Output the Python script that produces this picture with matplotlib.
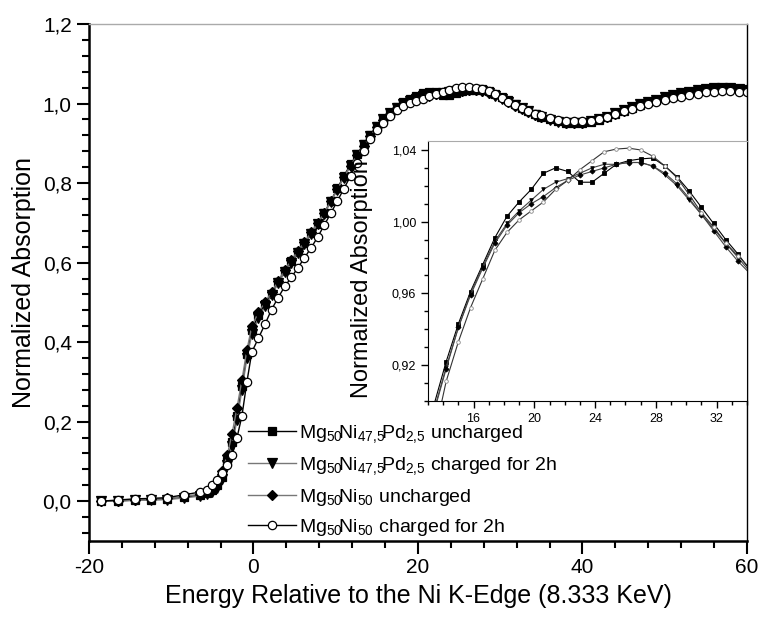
import matplotlib
matplotlib.use("Agg")
import matplotlib.pyplot as plt
from matplotlib.ticker import MultipleLocator, FuncFormatter

plt.rcParams['font.family'] = ['Liberation Sans', 'DejaVu Sans']
plt.rcParams['mathtext.fontset'] = 'custom'
plt.rcParams['mathtext.rm'] = 'Liberation Sans'
plt.rcParams['mathtext.default'] = 'regular'

# energy relative to the Ni K-edge (eV), shared by all four scans
energy = [-18.6, -16.5, -14.4, -12.5, -10.5, -8.5, -6.5,
          -5.6, -5.0, -4.4, -3.8, -3.2, -2.6, -2.0, -1.4, -0.8, -0.2,
          0.6, 1.4, 2.2, 3.0, 3.8, 4.6, 5.4, 6.2, 7.0, 7.8, 8.6, 9.4, 10.2,
          11.0, 11.8, 12.6, 13.4,
          14.2, 15.0, 15.8, 16.6, 17.4, 18.2, 19.0, 19.8, 20.6, 21.4, 22.2,
          23.0, 23.8, 24.6, 25.4, 26.2, 27.0, 27.8, 28.6, 29.4, 30.2, 31.0,
          31.8, 32.6, 33.4, 34.2,
          35.0, 36.0, 37.0, 38.0, 39.0, 40.0, 41.0, 42.0, 43.0, 44.0, 45.0,
          46.0, 47.0, 48.0, 49.0, 50.0, 51.0, 52.0, 53.0, 54.0, 55.0, 56.0,
          57.0, 58.0, 59.0, 60.0]

pd_uncharged = [0.000, 0.001, 0.003, 0.004, 0.005, 0.010, 0.015,
                0.020, 0.027, 0.040, 0.062, 0.100, 0.150, 0.215, 0.290, 0.370, 0.430,
                0.468, 0.495, 0.522, 0.552, 0.580, 0.603, 0.627, 0.650, 0.674, 0.698,
                0.725, 0.755, 0.787, 0.818, 0.847, 0.873, 0.898,
                0.922, 0.943, 0.961, 0.976, 0.991, 1.003, 1.011, 1.018, 1.027, 1.030,
                1.028, 1.022, 1.022, 1.027, 1.032, 1.034, 1.035, 1.0355, 1.031, 1.025,
                1.017, 1.008, 0.999, 0.990, 0.982, 0.973,
                0.967, 0.960, 0.955, 0.951, 0.950, 0.951, 0.954, 0.959, 0.966, 0.974,
                0.982, 0.990, 0.997, 1.003, 1.009, 1.015, 1.020, 1.025, 1.030, 1.034,
                1.037, 1.039, 1.040, 1.039, 1.037, 1.034]

pd_charged = [0.000, 0.000, 0.002, 0.003, 0.004, 0.008, 0.013,
              0.018, 0.024, 0.034, 0.055, 0.090, 0.140, 0.205, 0.280, 0.360, 0.420,
              0.460, 0.490, 0.518, 0.548, 0.576, 0.600, 0.624, 0.647, 0.671, 0.696,
              0.723, 0.752, 0.783, 0.814, 0.843, 0.870, 0.895,
              0.919, 0.941, 0.960, 0.975, 0.989, 0.999, 1.006, 1.012, 1.018, 1.022,
              1.024, 1.027, 1.030, 1.032, 1.032, 1.033, 1.033, 1.031, 1.026, 1.020,
              1.012, 1.004, 0.996, 0.988, 0.980, 0.972,
              0.966, 0.959, 0.954, 0.951, 0.950, 0.951, 0.955, 0.960, 0.967, 0.975,
              0.983, 0.991, 0.998, 1.004, 1.010, 1.016, 1.021, 1.026, 1.030, 1.034,
              1.037, 1.039, 1.039, 1.038, 1.036, 1.033]

ni_uncharged = [0.000, 0.001, 0.004, 0.005, 0.007, 0.012, 0.018,
                0.024, 0.033, 0.048, 0.075, 0.115, 0.170, 0.235, 0.305, 0.380, 0.440,
                0.475, 0.500, 0.526, 0.554, 0.582, 0.606, 0.630, 0.652, 0.676, 0.700,
                0.726, 0.754, 0.785, 0.815, 0.844, 0.870, 0.894,
                0.918, 0.941, 0.959, 0.974, 0.988, 0.998, 1.005, 1.010, 1.014, 1.019,
                1.023, 1.026, 1.028, 1.030, 1.032, 1.033, 1.033, 1.031, 1.027, 1.021,
                1.013, 1.004, 0.995, 0.986, 0.978, 0.971,
                0.966, 0.960, 0.955, 0.952, 0.951, 0.952, 0.955, 0.960, 0.966, 0.974,
                0.982, 0.990, 0.997, 1.003, 1.009, 1.015, 1.020, 1.025, 1.029, 1.033,
                1.036, 1.038, 1.039, 1.038, 1.036, 1.033]

ni_charged = [0.000, 0.003, 0.006, 0.007, 0.009, 0.016, 0.023,
              0.029, 0.040, 0.053, 0.070, 0.092, 0.115, 0.160, 0.215, 0.300, 0.375,
              0.410, 0.445, 0.482, 0.512, 0.540, 0.563, 0.587, 0.612, 0.637, 0.664,
              0.694, 0.724, 0.755, 0.786, 0.818, 0.850, 0.880,
              0.911, 0.933, 0.952, 0.968, 0.984, 0.994, 1.001, 1.006, 1.011, 1.018,
              1.023, 1.029, 1.034, 1.039, 1.0405, 1.041, 1.040, 1.0365, 1.031, 1.0245,
              1.015, 1.005, 0.997, 0.988, 0.981, 0.974,
              0.970, 0.964, 0.959, 0.956, 0.955, 0.955, 0.957, 0.961, 0.966, 0.973,
              0.980, 0.987, 0.993, 0.998, 1.003, 1.008, 1.013, 1.017, 1.021, 1.025,
              1.028, 1.030, 1.031, 1.031, 1.030, 1.028]

labels = [r"Mg$_{50}\!$Ni$_{47{,}5}\!$Pd$_{2{,}5}$ uncharged",
          r"Mg$_{50}\!$Ni$_{47{,}5}\!$Pd$_{2{,}5}$ charged for 2h",
          r"Mg$_{50}\!$Ni$_{50}$ uncharged",
          r"Mg$_{50}\!$Ni$_{50}$ charged for 2h"]

series = [pd_uncharged, pd_charged, ni_uncharged, ni_charged]
markers = ['s', 'v', 'D', 'o']
line_cols = ['black', '#777777', '#777777', 'black']
face_cols = ['black', 'black', 'black', 'white']
sizes = [5.5, 6.5, 5.0, 6.0]


def comma(fmt):
    return FuncFormatter(lambda v, p: (fmt % v).replace('.', ','))


fig = plt.figure(figsize=(7.58, 6.17), dpi=100)
ax = fig.add_axes([0.1174, 0.1232, 0.868, 0.8379])

for i, y in enumerate(series):
    ax.plot(energy, y, color=line_cols[i], lw=1.0, marker=markers[i],
            ms=sizes[i], mfc=face_cols[i], mec='black', mew=0.9,
            label=labels[i])

ax.set_xlim(-20, 60)
ax.set_ylim(-0.1, 1.2)
ax.xaxis.set_major_locator(MultipleLocator(20))
ax.xaxis.set_minor_locator(MultipleLocator(4))
ax.yaxis.set_major_locator(MultipleLocator(0.2))
ax.yaxis.set_minor_locator(MultipleLocator(0.04))
ax.xaxis.set_major_formatter(FuncFormatter(lambda v, p: '%d' % v))
ax.yaxis.set_major_formatter(comma('%.1f'))
ax.tick_params(which='both', direction='out', top=False, right=False,
               width=1.5, labelsize=15)
ax.tick_params(which='major', length=9)
ax.tick_params(which='minor', length=5)
for s in ['left', 'bottom']:
    ax.spines[s].set_linewidth(1.8)
ax.spines['top'].set_color('#aaaaaa')
ax.spines['top'].set_linewidth(1.0)
ax.spines['right'].set_linewidth(1.0)

ax.set_xlabel("Energy Relative to the Ni K-Edge (8.333 KeV)", fontsize=18)
ax.set_ylabel("Normalized Absorption", fontsize=18)
ax.xaxis.set_label_coords(0.5, -0.083)
ax.yaxis.set_label_coords(-0.081, 0.5)

leg = ax.legend(loc='upper left', bbox_to_anchor=(0.327, 0.314),
                bbox_transform=fig.transFigure, frameon=False, fontsize=14,
                handlelength=2.5, handletextpad=0.15, labelspacing=0.5,
                borderpad=0, borderaxespad=0)

# inset: zoom on the white line region
axin = fig.add_axes([0.5646, 0.3501, 0.4209, 0.4214])
inset_lines = ['black', '#444444', '#444444', '#333333']
inset_edges = ['black', 'black', 'black', '#888888']
for i, y in enumerate(series):
    axin.plot(energy, y, color=inset_lines[i], lw=0.8, marker=markers[i],
              ms=2.6, mfc=face_cols[i], mec=inset_edges[i], mew=0.6)

axin.set_xlim(13, 34)
axin.set_ylim(0.90, 1.045)
axin.xaxis.set_major_locator(MultipleLocator(4))
axin.xaxis.set_minor_locator(MultipleLocator(1))
axin.yaxis.set_major_locator(MultipleLocator(0.04))
axin.yaxis.set_minor_locator(MultipleLocator(0.01))
axin.xaxis.set_major_formatter(FuncFormatter(lambda v, p: '%d' % v))
axin.yaxis.set_major_formatter(comma('%.2f'))
axin.tick_params(which='both', direction='out', top=False, right=False,
                 width=1.0, labelsize=9)
axin.tick_params(which='major', length=5)
axin.tick_params(which='minor', length=3)
axin.spines['top'].set_color('#aaaaaa')
axin.set_ylabel("Normalized Absorption", fontsize=17)
axin.yaxis.set_label_coords(-0.173, 0.47)

fig.savefig("out.png", dpi=100)
